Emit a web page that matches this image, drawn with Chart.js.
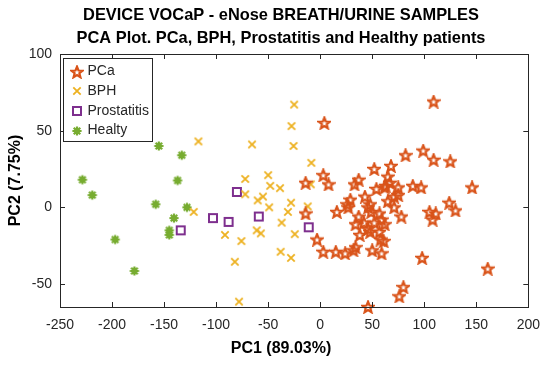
<!DOCTYPE html>
<html>
<head>
<meta charset="utf-8">
<script src="https://cdn.jsdelivr.net/npm/chart.js@4.4.1/dist/chart.umd.min.js"></script>
<style>
  html, body { margin: 0; padding: 0; background: #fff; }
</style>
</head>
<body>
<canvas id="pca" width="550" height="366"></canvas>
<script>
// PCA scatter: PCa / BPH / Prostatitis / Healthy (eNose breath/urine)

const TITLE_LINES = ['DEVICE VOCaP - eNose BREATH/URINE SAMPLES', 'PCA Plot. PCa, BPH, Prostatitis and Healthy patients'];
const X_LABEL = 'PC1 (89.03%)';
const Y_LABEL = 'PC2 (7.75%)';
const X_TICKS = [-250, -200, -150, -100, -50, 0, 50, 100, 150, 200];
const Y_TICKS = [-50, 0, 50, 100];
const SERIES_NAMES = ['PCa', 'BPH', 'Prostatitis', 'Healty'];

const pcaPoints = [
  [4, 55], [109, 69], [3, 21], [-14, 16], [8, 15], [33, 15], [37, 18], [52, 25],
  [68, 27], [82, 34], [99, 37], [109, 31], [125, 30], [65, 20], [67, 16], [54, 12],
  [63, 14], [75, 13], [89, 14], [97, 13], [146, 13], [75, 8], [65, 4], [71, 0],
  [78, -6], [105, -3], [111, -4], [108, -8], [124, 3], [130, -2], [48, 2], [49, -3],
  [57, -4], [52, -10], [59, -8], [48, -16], [57, -16], [58, -21], [50, -28], [59, -30],
  [98, -33], [161, -40], [80, -52], [76, -58], [46, -65], [29, 5], [43, 7], [46, 0],
  [27, 0], [16, -3], [-14, -4], [37, -6], [34, -11], [46, -14], [38, -18], [34, -26],
  [-3, -21], [3, -29], [15, -29], [24, -30], [32, -28], [42, -10], [62, -11], [61, -22],
  [71, 7], [62, 13], [26, 2]
];
const bphPoints = [
  [-117, 43], [-121.5, -3], [-91.5, -18], [-25, 67], [-27.5, 53], [-65.5, 41], [-25.6, 40],
  [-8.5, 29], [-50, 21], [-72, 18.5], [-48, 14], [-38.6, 12.5], [-72, 8.5], [-55, 7],
  [-60, 4.5], [-9, 15], [-28, 3], [-49, 0], [-12, 0.6], [-31, -3], [-37, -10], [-61, -15],
  [-57, -17], [-24.4, -17.5], [-75.7, -22], [-38, -29], [-28, -33], [-82, -35.5], [-78, -61.5]
];
const prostatitisPoints = [
  [-134, -15], [-103, -7], [-88, -9.5], [-80, 10], [-59, -6], [-11, -13]
];
const healthyPoints = [
  [-155, 40], [-133, 34], [-228.5, 18], [-219, 8], [-137, 17.5], [-158, 2], [-128, 0],
  [-140.5, -7], [-145, -15], [-145, -18], [-197, -21], [-178.5, -41.5]
];

const COLORS = ['#D95319', '#EDB120', '#7E2F8E', '#77AC30'];
const AXIS_COLOR = '#262626';
const FONT = '"Liberation Sans", Arial, sans-serif';

// marker images, shared by the plot and the legend
function makeMarker(kind, color) {
  const c = document.createElement('canvas');
  const s = 14;
  c.width = s; c.height = s;
  const g = c.getContext('2d');
  const m = s / 2;
  g.strokeStyle = color;
  g.fillStyle = color;
  if (kind === 'pentagram') {
    g.lineWidth = 2.2;
    g.lineJoin = 'miter';
    g.beginPath();
    for (let i = 0; i < 10; i++) {
      const r = i % 2 === 0 ? 5.8 : 2.5;
      const a = -Math.PI / 2 + i * Math.PI / 5;
      const px = m + r * Math.cos(a), py = m + 0.5 + r * Math.sin(a);
      if (i === 0) g.moveTo(px, py); else g.lineTo(px, py);
    }
    g.closePath();
    g.stroke();
  } else if (kind === 'x') {
    g.lineWidth = 1.8;
    g.beginPath();
    g.moveTo(m - 3.7, m - 3.7); g.lineTo(m + 3.7, m + 3.7);
    g.moveTo(m + 3.7, m - 3.7); g.lineTo(m - 3.7, m + 3.7);
    g.stroke();
  } else if (kind === 'square') {
    g.lineWidth = 2;
    g.strokeRect(m - 4, m - 4, 8, 8);
  } else {
    g.lineWidth = 2.2;
    g.beginPath();
    for (let i = 0; i < 8; i++) {
      const a = i * Math.PI / 4;
      g.moveTo(m, m);
      g.lineTo(m + 4.6 * Math.cos(a), m + 4.6 * Math.sin(a));
    }
    g.stroke();
    g.beginPath();
    g.arc(m, m, 2.6, 0, Math.PI * 2);
    g.fill();
  }
  return c;
}

const MARKERS = [
  makeMarker('pentagram', COLORS[0]),
  makeMarker('x', COLORS[1]),
  makeMarker('square', COLORS[2]),
  makeMarker('burst', COLORS[3])
];

const toXY = pts => pts.map(p => ({ x: p[0], y: p[1] }));
const groups = [pcaPoints, bphPoints, prostatitisPoints, healthyPoints];

// box, inner ticks on all four sides, legend in the top-left corner, title + x label
const framePlugin = {
  id: 'frame',
  afterDatasetsDraw(chart) {
    const { ctx, chartArea: a, scales: { x, y } } = chart;
    ctx.save();
    ctx.strokeStyle = AXIS_COLOR;
    ctx.lineWidth = 1;
    ctx.beginPath();
    x.ticks.forEach(t => {
      const px = Math.round(x.getPixelForValue(t.value)) + 0.5;
      ctx.moveTo(px, a.bottom); ctx.lineTo(px, a.bottom - 5);
      ctx.moveTo(px, a.top); ctx.lineTo(px, a.top + 5);
    });
    y.ticks.forEach(t => {
      const py = Math.round(y.getPixelForValue(t.value)) + 0.5;
      ctx.moveTo(a.left, py); ctx.lineTo(a.left + 5, py);
      ctx.moveTo(a.right, py); ctx.lineTo(a.right - 5, py);
    });
    ctx.stroke();
    ctx.strokeRect(Math.round(a.left) + 0.5, Math.round(a.top) + 0.5, Math.round(a.width), Math.round(a.height));

    // legend
    const bx = Math.round(a.left) + 3.5, by = Math.round(a.top) + 4.5, bw = 89, bh = 83;
    ctx.fillStyle = '#fff';
    ctx.fillRect(bx, by, bw, bh);
    ctx.strokeStyle = AXIS_COLOR;
    ctx.strokeRect(bx, by, bw, bh);
    ctx.font = '14px ' + FONT;
    ctx.textBaseline = 'middle';
    ctx.textAlign = 'left';
    ctx.fillStyle = AXIS_COLOR;
    SERIES_NAMES.forEach((name, i) => {
      const cy = by + 13 + i * 19.7;
      const img = MARKERS[i];
      ctx.drawImage(img, Math.round(bx + 13 - img.width / 2), Math.round(cy - img.height / 2));
      ctx.fillText(name, bx + 24, cy);
    });

    // title and x label, centred a bit left of the plot box like the original
    ctx.fillStyle = '#000';
    ctx.textAlign = 'center';
    ctx.font = 'bold 16.4px ' + FONT;
    ctx.fillText(TITLE_LINES[0], 281, 15);
    ctx.fillText(TITLE_LINES[1], 281, 38);
    ctx.font = 'bold 16px ' + FONT;
    ctx.fillText(X_LABEL, 281, 349);
    ctx.restore();
  }
};

new Chart(document.getElementById('pca'), {
  type: 'scatter',
  data: {
    datasets: groups.map((pts, i) => ({
      label: SERIES_NAMES[i],
      data: toXY(pts),
      pointStyle: MARKERS[i],
      clip: false
    }))
  },
  options: {
    responsive: false,
    animation: false,
    devicePixelRatio: 1,
    layout: { padding: { top: 54, right: 16 } },
    plugins: {
      legend: { display: false },
      tooltip: { enabled: false },
      title: { display: false }
    },
    scales: {
      x: {
        type: 'linear',
        min: -250, max: 200,
        afterBuildTicks: s => { s.ticks = X_TICKS.map(v => ({ value: v })); },
        afterFit: s => { s.height = 59; },
        grid: { display: false, drawTicks: false },
        border: { display: false },
        ticks: { color: AXIS_COLOR, padding: 10, font: { family: FONT, size: 14 } }
      },
      y: {
        type: 'linear',
        min: -65, max: 100,
        afterBuildTicks: s => { s.ticks = Y_TICKS.map(v => ({ value: v })); },
        afterFit: s => { s.width = 60; },
        grid: { display: false, drawTicks: false },
        border: { display: false },
        ticks: { color: AXIS_COLOR, padding: 8, font: { family: FONT, size: 14 } },
        title: {
          display: true, text: Y_LABEL, color: '#000',
          font: { family: FONT, size: 16, weight: 'bold' },
          padding: { top: 5.5, bottom: 0 }
        }
      }
    }
  },
  plugins: [framePlugin]
});
</script>
</body>
</html>
